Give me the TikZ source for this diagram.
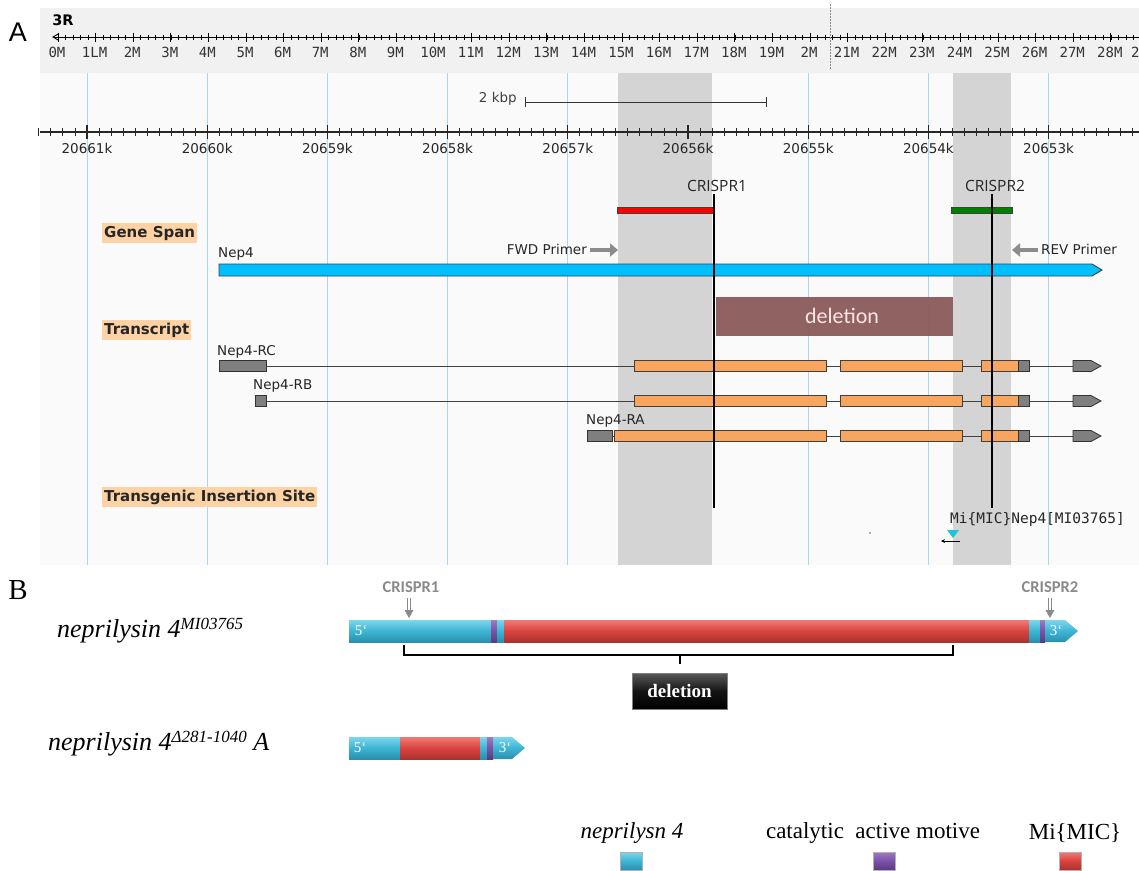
\documentclass[tikz,border=0pt]{standalone}
\usepackage{fontspec}
\setmainfont{Liberation Serif}
\newfontfamily\dv{DejaVu Sans}
\newfontfamily\dvm{DejaVu Sans Mono}
\newfontfamily\osans{Open Sans}
\newfontfamily\carl{Carlito}
\newfontfamily\lsans{Liberation Sans}
\usetikzlibrary{arrows.meta}
\definecolor{panelbg}{HTML}{FAFAFA}
\definecolor{bandbg}{HTML}{F1F1F1}
\definecolor{hilite}{HTML}{D4D4D4}
\definecolor{gridblue}{HTML}{A6D8F2}
\definecolor{peach}{HTML}{FDD3A5}
\definecolor{genebl}{HTML}{00BFFF}
\definecolor{exon}{HTML}{F7A55F}
\definecolor{utr}{HTML}{7F7F7F}
\definecolor{delbrown}{HTML}{8C5A5A}
\definecolor{crgreen}{HTML}{008000}
\definecolor{cyL}{HTML}{7CD6EC}
\definecolor{cyM}{HTML}{3DB5D3}
\definecolor{cyD}{HTML}{2B8FAE}
\definecolor{rdL}{HTML}{F27A76}
\definecolor{rdM}{HTML}{D8433F}
\definecolor{rdD}{HTML}{A83230}
\definecolor{puL}{HTML}{9D7AC4}
\definecolor{puM}{HTML}{7A52A6}
\definecolor{puD}{HTML}{5A3A80}
\definecolor{labgray}{HTML}{8A8A8A}
\definecolor{insc}{HTML}{1CC6D6}
\begin{document}
\begin{tikzpicture}[x=1pt,y=-1pt,
  smalltxt/.style={inner sep=0pt, font=\dv\fontsize{13.5}{15}\selectfont, text=black!85},
  rulertxt/.style={inner sep=0pt, font=\dvm\fontsize{14}{15}\selectfont, text=black!80},
  tracklab/.style={anchor=west, fill=peach, inner xsep=2pt, inner ysep=3pt, font=\dv\bfseries\fontsize{15}{17}\selectfont, text=black!85},
  crtxt/.style={inner sep=0pt, font=\osans\fontsize{15.5}{17}\selectfont, text=black!85},
  cutline/.style={line width=1.7pt, black},
  primer/.style={line width=3.2pt, black!45, -{Triangle[length=8pt,width=13pt]}},
  exonbox/.style={fill=exon, draw=black!75, line width=0.8pt},
  utrbox/.style={fill=utr, draw=black!80, line width=0.8pt},
  intron/.style={line width=0.8pt, black!75},
  cyanseg/.style={top color=cyL, bottom color=cyD, middle color=cyM},
  redseg/.style={top color=rdL, bottom color=rdD, middle color=rdM},
  purseg/.style={top color=puL, bottom color=puD, middle color=puM},
  endlab/.style={inner sep=0pt, text=white, font=\fontsize{15}{16}\selectfont},
  crbtxt/.style={inner sep=0pt, text=labgray, font=\carl\bfseries\fontsize{16.5}{18}\selectfont},
  dblshaft/.style={labgray, line width=1.1pt},
  delbox/.style={minimum width=95pt, minimum height=36pt, inner sep=0pt, top color=black!65, bottom color=black, middle color=black!92, draw=black!50, text=white, font=\bfseries\fontsize{19}{21}\selectfont},
  legtxt/.style={inner sep=0pt, font=\fontsize{23}{25}\selectfont},
  legsq/.style={minimum width=22pt, minimum height=18pt, inner sep=0pt, draw=black!30, line width=0.4pt},
  gtitle/.style={anchor=base west, inner sep=0pt, font=\itshape\fontsize{26}{28}\selectfont}
]
\useasboundingbox (0,0) rectangle (1139,870);
\fill[white] (0,0) rectangle (1139,870);
% ---------------- panel A backgrounds
\fill[panelbg] (40,8) rectangle (1139,565);
\fill[bandbg] (40,8) rectangle (1139,73);
\foreach \k in {0,...,8} \draw[gridblue, line width=1pt] (87+\k*120.2,73) -- (87+\k*120.2,565);
\fill[hilite] (618,73) rectangle (712,565);
\fill[hilite] (953,73) rectangle (1011,565);
\node[font=\lsans\fontsize{27}{29}\selectfont, inner sep=0pt] (lblA) at (18,32) {A};
% ---------------- chromosome ruler
\node[inner sep=0pt, font=\dv\bfseries\fontsize{14.5}{16}\selectfont] (chr) at (63,20) {3R};
\draw[line width=0.9pt] (54,37) -- (1139,37);
\draw[line width=0.9pt] (59,33.5) -- (53,37) -- (59,40.5);
\foreach \k in {0,...,143} \draw[line width=0.6pt] (58+\k*7.52,34.5) -- ++(0,5);
\foreach \t [count=\i from 0] in {0M,1LM,2M,3M,4M,5M,6M,7M,8M,9M,10M,11M,12M,13M,14M,15M,16M,17M,18M,19M,2M,21M,22M,23M,24M,25M,26M,27M,28M}{
  \draw[line width=0.8pt] (58+\i*37.6,32.5) -- ++(0,9);
  \node[rulertxt] (m\i) at (57+\i*37.6,52) {\t};
}
\node[rulertxt, anchor=west] (m29) at (1131,52) {2};
\draw[black!45, line width=1pt, dash pattern=on 1.5pt off 1.5pt] (830,4) -- (830,70);
% ---------------- scale bar
\node[smalltxt, anchor=east, text=black!75] (kbp) at (517,99) {2 kbp};
\coordinate (sb1) at (525,102);
\coordinate (sb2) at (766,102);
\draw[line width=1pt, black!80] (sb1) -- (sb2);
\draw[line width=1pt, black!80] ([yshift=-5pt]sb1) -- ([yshift=5pt]sb1) ([yshift=-5pt]sb2) -- ([yshift=5pt]sb2);
% ---------------- coordinate ruler
\draw[line width=1.3pt, black!85] (40,132) -- (1139,132);
\foreach \k in {0,...,91} \draw[line width=0.9pt, black!85] (38.9+\k*12.02,128) -- ++(0,8);
\foreach \t [count=\i from 0] in {20661k,20660k,20659k,20658k,20657k,20656k,20655k,20654k,20653k}{
  \draw[line width=1.3pt, black!85] (87+\i*120.2,125) -- ++(0,14);
  \node[smalltxt] (k\i) at (87+\i*120.2,148) {\t};
}
% ---------------- track labels
\node[tracklab] (gs) at (102,233) {Gene Span};
\node[tracklab] (trs) at (102,330) {Transcript};
\node[tracklab] (tis) at (102,497) {Transgenic Insertion Site};
% ---------------- CRISPR sites
\draw[fill=red, draw=black!75, line width=0.8pt] (617,207) rectangle (713,213);
\draw[fill=crgreen, draw=black!75, line width=0.8pt] (951,207) rectangle (1012,213);
\node[crtxt] (c1) at (717,186) {CRISPR1};
\node[crtxt] (c2) at (995,186) {CRISPR2};
\coordinate (c1a) at (714,194); \coordinate (c1b) at (714,508);
\coordinate (c2a) at (992,194); \coordinate (c2b) at (992,508);
% ---------------- gene span
\node[smalltxt, anchor=west] (nep) at (218,254) {Nep4};
\draw[fill=genebl, draw=black!75, line width=0.9pt] (219,264) -- (1092,264) -- (1102,270) -- (1092,276) -- (219,276) -- cycle;
\node[smalltxt, anchor=east] (fwd) at (587,249) {FWD Primer};
\node[smalltxt, anchor=west] (rev) at (1041,249) {REV Primer};
\draw[primer] ([xshift=3pt]fwd.east |- 0,250) -- (618,250);
\draw[primer] ([xshift=-3pt]rev.west |- 0,250) -- (1012,250);
% ---------------- deletion box A
\fill[delbrown, fill opacity=0.95] (716,297) rectangle (953,336);
\node[inner sep=0pt, text=white!90!red, font=\carl\fontsize{22}{24}\selectfont] (delA) at (842,316) {deletion};
% ---------------- transcripts
\foreach \y/\s/\a in {366/634/266, 401/634/266, 436/614/612}{
  \draw[intron] (\a,\y) -- (1075,\y);
  \draw[exonbox] (\s,\y-5.5) rectangle (826,\y+5.5);
  \draw[exonbox] (840,\y-5.5) rectangle (962,\y+5.5);
  \draw[exonbox] (981,\y-5.5) rectangle (1018,\y+5.5);
  \draw[utrbox] (1018,\y-5.5) rectangle (1029,\y+5.5);
  \draw[utrbox] (1073,\y-5.5) -- (1091,\y-5.5) -- (1101,\y) -- (1091,\y+5.5) -- (1073,\y+5.5) -- cycle;
}
\draw[utrbox] (219,360.5) rectangle (266,371.5);
\draw[utrbox] (255,395.5) rectangle (266,406.5);
\draw[utrbox] (587,430.5) rectangle (612,441.5);
\node[smalltxt, anchor=west] (rc) at (217,352) {Nep4-RC};
\node[smalltxt, anchor=west] (rb) at (253,386) {Nep4-RB};
\node[smalltxt, anchor=west] (ra) at (586,421) {Nep4-RA};
% CRISPR cut lines on top
\draw[cutline] (c1a) -- (c1b);
\draw[cutline] (c2a) -- (c2b);
% ---------------- insertion
\node[inner sep=0pt, anchor=west, font=\dvm\fontsize{14.5}{16}\selectfont, text=black!85] (mic) at (950,519) {Mi\{MIC\}Nep4[MI03765]};
\fill[insc] (947,530) -- (959,530) -- (953,538) -- cycle;
\coordinate (ia) at (960,541); \coordinate (ib) at (941,541);
\draw[line width=0.7pt, -{Stealth[length=4pt,width=4pt]}] (ia) -- (ib);
\fill[black!60] (870,533) circle (0.9);
% ---------------- panel B
\node[font=\fontsize{29}{31}\selectfont, inner sep=0pt] (lblB) at (18,590) {B};
\node[gtitle] (t1) at (57,637) {neprilysin 4\raisebox{7.5pt}{\fontsize{17}{18}\selectfont MI03765}};
\node[gtitle] (t2) at (48,750) {neprilysin 4\raisebox{8pt}{\fontsize{17}{18}\selectfont Δ281-1040} A};
% row 1 bar
\shade[cyanseg] (349,620) rectangle (491,642);
\shade[purseg] (491,620) rectangle (497,642);
\shade[cyanseg] (497,620) rectangle (504,642);
\shade[redseg] (504,620) rectangle (1029,642);
\shade[cyanseg] (1029,620) rectangle (1040,642);
\shade[purseg] (1040,620) rectangle (1045,642);
\shade[cyanseg] (1045,620) -- (1065,620) -- (1078,631) -- (1065,642) -- (1045,642) -- cycle;
\node[endlab] (e5a) at (361,631) {5`};
\node[endlab] (e3a) at (1056,631) {3`};
% row 2 bar
\shade[cyanseg] (349,737) rectangle (400,759);
\shade[redseg] (400,737) rectangle (480,759);
\shade[cyanseg] (480,737) rectangle (487,759);
\shade[purseg] (487,737) rectangle (493,759);
\shade[cyanseg] (493,737) -- (512,737) -- (525,748) -- (512,759) -- (493,759) -- cycle;
\node[endlab] (e5b) at (360,748) {5`};
\node[endlab] (e3b) at (505,748) {3`};
% CRISPR marks B
\node[crbtxt] (cb1) at (411,587) {CRISPR1};
\node[crbtxt] (cb2) at (1050,587) {CRISPR2};
\foreach \x in {409,1050}{
  \draw[dblshaft] (\x-1.4,598) -- (\x-1.4,611) (\x+1.4,598) -- (\x+1.4,611);
  \fill[labgray] (\x-4.5,610) -- (\x+4.5,610) -- (\x,618) -- cycle;
}
% bracket + deletion
\node[delbox] (dbox) at (679.5,691) {deletion};
\draw[line width=2.6pt] (404,645) -- (404,655) -- (953,655) -- (953,645);
\draw[line width=2.6pt] (680,655) -- (680,664);
% ---------------- legend
\node[legtxt, font=\itshape\fontsize{23}{25}\selectfont] (l1) at (632,833) {neprilysn 4};
\node[legtxt] (l2) at (873,833) {catalytic\ \ active motive};
\node[legtxt] (l3) at (1075,833) {Mi\{MIC\}};
\node[legsq, cyanseg] (s1) at (631,861) {};
\node[legsq, purseg] (s2) at (884,861) {};
\node[legsq, redseg] (s3) at (1070,861) {};
\end{tikzpicture}
\end{document}
